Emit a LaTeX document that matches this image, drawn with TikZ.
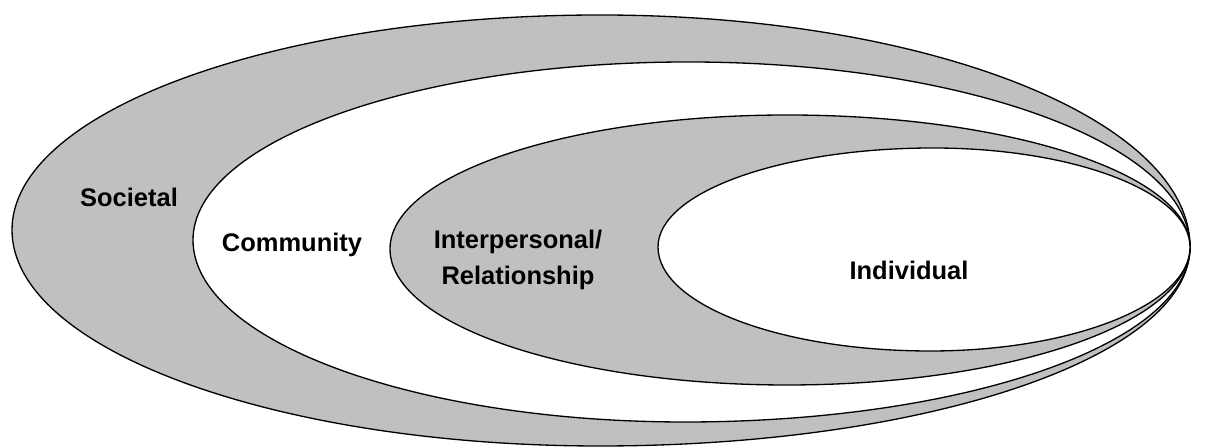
\documentclass[tikz,border=0pt]{standalone}
\usepackage{fontspec}
\setmainfont{Liberation Sans}
\definecolor{ringgray}{RGB}{192,192,192}
\begin{document}
\begin{tikzpicture}[x=0.02cm,y=0.02cm,line width=0.75pt,
  lbl/.style={font=\fontsize{14.5}{21}\selectfont\bfseries,inner sep=0pt,align=center}]
\useasboundingbox (0,0) rectangle (1222,448);
% rings, outer to inner, all meeting at the right
\filldraw[fill=ringgray] (1190,201)
  arc[start angle=0,end angle=90,x radius=590,y radius=232]
  arc[start angle=90,end angle=180,x radius=588,y radius=215]
  arc[start angle=180,end angle=270,x radius=588,y radius=216]
  arc[start angle=270,end angle=360,x radius=590,y radius=199] -- cycle;
\filldraw[fill=white] (1190,201)
  arc[start angle=0,end angle=90,x radius=502,y radius=185]
  arc[start angle=90,end angle=180,x radius=495,y radius=178]
  arc[start angle=180,end angle=270,x radius=492,y radius=182]
  arc[start angle=270,end angle=360,x radius=505,y radius=175] -- cycle;
\filldraw[fill=ringgray] (1190,201)
  arc[start angle=0,end angle=90,x radius=403,y radius=132]
  arc[start angle=90,end angle=180,x radius=397,y radius=134]
  arc[start angle=180,end angle=270,x radius=397,y radius=136]
  arc[start angle=270,end angle=360,x radius=403,y radius=138] -- cycle;
\filldraw[fill=white] (1190,201)
  arc[start angle=0,end angle=90,x radius=257,y radius=99]
  arc[start angle=90,end angle=180,x radius=275,y radius=99]
  arc[start angle=180,end angle=270,x radius=272,y radius=104]
  arc[start angle=270,end angle=360,x radius=260,y radius=104] -- cycle;
% labels
\node[lbl,anchor=base] (societal) at (129,241) {Societal};
\node[lbl,anchor=base] (community) at (292,196) {Community};
\node[lbl,anchor=base] (interpersonal) at (518,163) {Interpersonal/\\Relationship};
\node[lbl,anchor=base] (individual) at (909,168) {Individual};
\end{tikzpicture}
\end{document}
